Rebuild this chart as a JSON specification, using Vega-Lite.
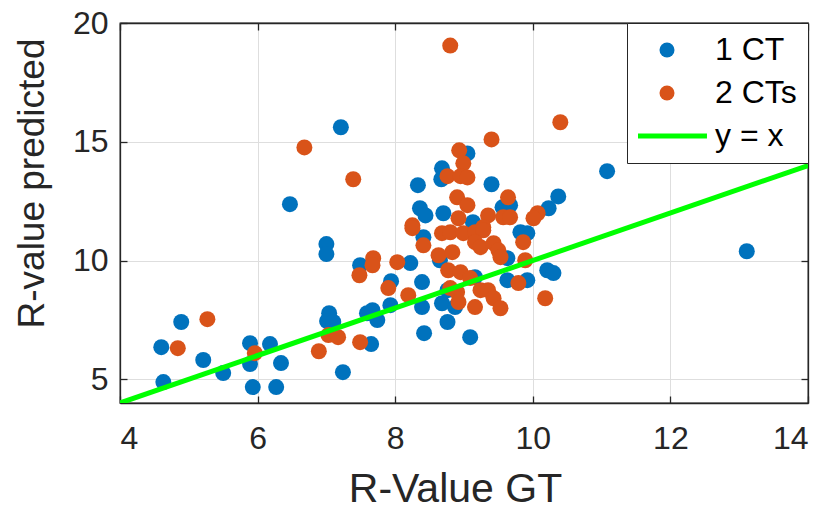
{
  "$schema": "https://vega.github.io/schema/vega-lite/v6.json",
  "width": 688,
  "height": 380,
  "autosize": "none",
  "padding": {"left": 120, "top": 23, "right": 23, "bottom": 107},
  "background": "white",
  "config": {
    "view": {"stroke": "#262626", "strokeWidth": 1.3},
    "font": "Liberation Sans",
    "legend": {"labelAlign": "left"},
    "axis": {
      "labelFont": "Liberation Sans",
      "labelFontSize": 32,
      "labelColor": "#262626",
      "titleFont": "Liberation Sans",
      "titleFontSize": 38,
      "titleColor": "#262626",
      "titleFontWeight": "normal",
      "domainColor": "#262626",
      "domainWidth": 1.3,
      "tickColor": "#262626",
      "tickWidth": 1.3,
      "tickSize": -7,
      "gridColor": "#dedede",
      "gridWidth": 1
    }
  },
  "datasets": {
    "pts": [
      {"gt": 4.60, "pred": 6.35, "group": "1 CT"},
      {"gt": 4.63, "pred": 4.88, "group": "1 CT"},
      {"gt": 4.89, "pred": 7.41, "group": "1 CT"},
      {"gt": 5.21, "pred": 5.81, "group": "1 CT"},
      {"gt": 5.50, "pred": 5.26, "group": "1 CT"},
      {"gt": 5.89, "pred": 6.52, "group": "1 CT"},
      {"gt": 5.89, "pred": 5.64, "group": "1 CT"},
      {"gt": 5.93, "pred": 4.67, "group": "1 CT"},
      {"gt": 6.18, "pred": 6.48, "group": "1 CT"},
      {"gt": 6.34, "pred": 5.68, "group": "1 CT"},
      {"gt": 6.27, "pred": 4.67, "group": "1 CT"},
      {"gt": 6.47, "pred": 12.37, "group": "1 CT"},
      {"gt": 7.21, "pred": 15.61, "group": "1 CT"},
      {"gt": 7.00, "pred": 10.69, "group": "1 CT"},
      {"gt": 7.00, "pred": 10.27, "group": "1 CT"},
      {"gt": 7.04, "pred": 7.78, "group": "1 CT"},
      {"gt": 7.01, "pred": 7.45, "group": "1 CT"},
      {"gt": 7.10, "pred": 7.41, "group": "1 CT"},
      {"gt": 7.24, "pred": 5.30, "group": "1 CT"},
      {"gt": 7.49, "pred": 9.80, "group": "1 CT"},
      {"gt": 7.94, "pred": 9.13, "group": "1 CT"},
      {"gt": 7.93, "pred": 8.12, "group": "1 CT"},
      {"gt": 7.59, "pred": 7.78, "group": "1 CT"},
      {"gt": 7.67, "pred": 7.91, "group": "1 CT"},
      {"gt": 7.74, "pred": 7.49, "group": "1 CT"},
      {"gt": 7.65, "pred": 6.48, "group": "1 CT"},
      {"gt": 9.05, "pred": 14.51, "group": "1 CT"},
      {"gt": 8.68, "pred": 13.88, "group": "1 CT"},
      {"gt": 8.67, "pred": 13.42, "group": "1 CT"},
      {"gt": 8.33, "pred": 13.17, "group": "1 CT"},
      {"gt": 9.40, "pred": 13.21, "group": "1 CT"},
      {"gt": 10.37, "pred": 12.70, "group": "1 CT"},
      {"gt": 8.36, "pred": 12.20, "group": "1 CT"},
      {"gt": 10.23, "pred": 12.20, "group": "1 CT"},
      {"gt": 8.70, "pred": 11.99, "group": "1 CT"},
      {"gt": 9.67, "pred": 12.33, "group": "1 CT"},
      {"gt": 9.56, "pred": 12.24, "group": "1 CT"},
      {"gt": 8.44, "pred": 11.90, "group": "1 CT"},
      {"gt": 9.13, "pred": 11.61, "group": "1 CT"},
      {"gt": 8.41, "pred": 10.98, "group": "1 CT"},
      {"gt": 9.82, "pred": 11.19, "group": "1 CT"},
      {"gt": 9.92, "pred": 11.15, "group": "1 CT"},
      {"gt": 9.63, "pred": 10.10, "group": "1 CT"},
      {"gt": 8.65, "pred": 10.01, "group": "1 CT"},
      {"gt": 8.22, "pred": 9.89, "group": "1 CT"},
      {"gt": 10.21, "pred": 9.59, "group": "1 CT"},
      {"gt": 10.30, "pred": 9.47, "group": "1 CT"},
      {"gt": 9.63, "pred": 9.17, "group": "1 CT"},
      {"gt": 9.92, "pred": 9.17, "group": "1 CT"},
      {"gt": 9.16, "pred": 9.30, "group": "1 CT"},
      {"gt": 8.39, "pred": 9.09, "group": "1 CT"},
      {"gt": 8.39, "pred": 8.04, "group": "1 CT"},
      {"gt": 8.68, "pred": 8.20, "group": "1 CT"},
      {"gt": 8.87, "pred": 8.04, "group": "1 CT"},
      {"gt": 8.76, "pred": 7.41, "group": "1 CT"},
      {"gt": 8.42, "pred": 6.94, "group": "1 CT"},
      {"gt": 9.09, "pred": 6.77, "group": "1 CT"},
      {"gt": 8.76, "pred": 8.75, "group": "1 CT"},
      {"gt": 11.08, "pred": 13.76, "group": "1 CT"},
      {"gt": 13.11, "pred": 10.39, "group": "1 CT"},
      {"gt": 4.84, "pred": 6.31, "group": "2 CTs"},
      {"gt": 5.27, "pred": 7.53, "group": "2 CTs"},
      {"gt": 5.96, "pred": 6.10, "group": "2 CTs"},
      {"gt": 6.89, "pred": 6.18, "group": "2 CTs"},
      {"gt": 7.03, "pred": 6.86, "group": "2 CTs"},
      {"gt": 7.17, "pred": 6.77, "group": "2 CTs"},
      {"gt": 7.48, "pred": 9.38, "group": "2 CTs"},
      {"gt": 7.68, "pred": 10.10, "group": "2 CTs"},
      {"gt": 7.67, "pred": 9.80, "group": "2 CTs"},
      {"gt": 8.03, "pred": 9.93, "group": "2 CTs"},
      {"gt": 7.90, "pred": 8.84, "group": "2 CTs"},
      {"gt": 7.49, "pred": 6.56, "group": "2 CTs"},
      {"gt": 6.68, "pred": 14.76, "group": "2 CTs"},
      {"gt": 7.39, "pred": 13.42, "group": "2 CTs"},
      {"gt": 8.80, "pred": 19.05, "group": "2 CTs"},
      {"gt": 10.40, "pred": 15.82, "group": "2 CTs"},
      {"gt": 9.40, "pred": 15.10, "group": "2 CTs"},
      {"gt": 8.93, "pred": 14.64, "group": "2 CTs"},
      {"gt": 8.99, "pred": 14.09, "group": "2 CTs"},
      {"gt": 8.76, "pred": 13.55, "group": "2 CTs"},
      {"gt": 8.95, "pred": 13.55, "group": "2 CTs"},
      {"gt": 9.05, "pred": 13.50, "group": "2 CTs"},
      {"gt": 9.64, "pred": 12.66, "group": "2 CTs"},
      {"gt": 8.90, "pred": 12.66, "group": "2 CTs"},
      {"gt": 9.05, "pred": 12.33, "group": "2 CTs"},
      {"gt": 8.92, "pred": 11.78, "group": "2 CTs"},
      {"gt": 8.25, "pred": 11.48, "group": "2 CTs"},
      {"gt": 8.25, "pred": 11.36, "group": "2 CTs"},
      {"gt": 9.35, "pred": 11.90, "group": "2 CTs"},
      {"gt": 9.57, "pred": 11.82, "group": "2 CTs"},
      {"gt": 9.67, "pred": 11.82, "group": "2 CTs"},
      {"gt": 10.07, "pred": 11.99, "group": "2 CTs"},
      {"gt": 10.01, "pred": 11.78, "group": "2 CTs"},
      {"gt": 9.28, "pred": 11.40, "group": "2 CTs"},
      {"gt": 8.41, "pred": 10.64, "group": "2 CTs"},
      {"gt": 8.68, "pred": 11.15, "group": "2 CTs"},
      {"gt": 8.80, "pred": 11.19, "group": "2 CTs"},
      {"gt": 8.99, "pred": 11.15, "group": "2 CTs"},
      {"gt": 9.16, "pred": 11.19, "group": "2 CTs"},
      {"gt": 9.28, "pred": 11.27, "group": "2 CTs"},
      {"gt": 9.16, "pred": 10.77, "group": "2 CTs"},
      {"gt": 9.24, "pred": 10.56, "group": "2 CTs"},
      {"gt": 9.43, "pred": 10.73, "group": "2 CTs"},
      {"gt": 9.50, "pred": 10.43, "group": "2 CTs"},
      {"gt": 9.53, "pred": 10.14, "group": "2 CTs"},
      {"gt": 9.86, "pred": 10.77, "group": "2 CTs"},
      {"gt": 9.89, "pred": 10.01, "group": "2 CTs"},
      {"gt": 8.63, "pred": 10.22, "group": "2 CTs"},
      {"gt": 8.83, "pred": 10.35, "group": "2 CTs"},
      {"gt": 9.79, "pred": 9.05, "group": "2 CTs"},
      {"gt": 10.18, "pred": 8.41, "group": "2 CTs"},
      {"gt": 8.77, "pred": 9.59, "group": "2 CTs"},
      {"gt": 8.95, "pred": 9.51, "group": "2 CTs"},
      {"gt": 9.09, "pred": 9.26, "group": "2 CTs"},
      {"gt": 8.19, "pred": 8.54, "group": "2 CTs"},
      {"gt": 8.80, "pred": 8.84, "group": "2 CTs"},
      {"gt": 8.90, "pred": 8.67, "group": "2 CTs"},
      {"gt": 9.24, "pred": 8.75, "group": "2 CTs"},
      {"gt": 9.35, "pred": 8.75, "group": "2 CTs"},
      {"gt": 9.43, "pred": 8.41, "group": "2 CTs"},
      {"gt": 9.53, "pred": 7.99, "group": "2 CTs"},
      {"gt": 8.92, "pred": 8.25, "group": "2 CTs"},
      {"gt": 9.16, "pred": 8.04, "group": "2 CTs"}
    ],
    "ref": [
      {"gt": 4, "pred": 4},
      {"gt": 14, "pred": 14}
    ]
  },
  "layer": [
    {
      "data": {"name": "pts"},
      "mark": {"type": "point", "filled": true, "size": 256, "opacity": 1, "strokeWidth": 0},
      "encoding": {
        "x": {
          "field": "gt", "type": "quantitative",
          "scale": {"domain": [4, 14], "nice": false, "zero": false},
          "axis": {"orient": "bottom", "title": "R-Value GT", "titleFontSize": 41, "titleX": 335, "values": [4, 6, 8, 10, 12, 14], "labelPadding": 27, "titlePadding": 15, "grid": true}
        },
        "y": {
          "field": "pred", "type": "quantitative",
          "scale": {"domain": [4, 20], "nice": false, "zero": false},
          "axis": {"orient": "left", "title": "R-value predicted", "titleFontSize": 37, "titleY": 160, "values": [5, 10, 15, 20], "labelPadding": 19, "titlePadding": 21, "grid": true}
        },
        "color": {
          "field": "group", "type": "nominal",
          "scale": {"domain": ["1 CT", "2 CTs", "y = x"], "range": ["#0072BD", "#D95319", "#00FF00"]},
          "legend": {
            "title": null,
            "orient": "top-right",
            "offset": 0,
            "padding": 11,
            "strokeColor": "#262626",
            "fillColor": "white",
            "labelFont": "Liberation Sans",
            "labelFontSize": 32,
            "labelColor": "black",
            "labelAlign": "left",
            "symbolSize": 225,
            "symbolStrokeWidth": 73,
            "symbolStrokeColor": "transparent",
            "symbolOffset": -15,
            "clipHeight": 32,
            "rowPadding": 11,
            "cornerRadius": 0
          }
        },
        "shape": {
          "field": "group", "type": "nominal",
          "scale": {"domain": ["1 CT", "2 CTs", "y = x"], "range": ["circle", "circle", "M-5.33,-0.33H5.33V0.33H-5.33Z"]},
          "legend": {
            "title": null,
            "orient": "top-right",
            "offset": 0,
            "padding": 11,
            "strokeColor": "#262626",
            "fillColor": "white",
            "labelFont": "Liberation Sans",
            "labelFontSize": 32,
            "labelColor": "black",
            "labelAlign": "left",
            "symbolSize": 225,
            "symbolStrokeWidth": 73,
            "symbolStrokeColor": "transparent",
            "symbolOffset": -15,
            "clipHeight": 32,
            "rowPadding": 11,
            "cornerRadius": 0
          }
        }
      }
    },
    {
      "data": {"name": "ref"},
      "mark": {"type": "line", "color": "#00FF00", "strokeWidth": 5, "clip": true},
      "encoding": {
        "x": {
          "field": "gt", "type": "quantitative",
          "scale": {"domain": [4, 14], "nice": false, "zero": false},
          "axis": {"orient": "top", "title": null, "labels": false, "grid": false, "values": [4, 6, 8, 10, 12, 14]}
        },
        "y": {
          "field": "pred", "type": "quantitative",
          "scale": {"domain": [4, 20], "nice": false, "zero": false},
          "axis": {"orient": "right", "title": null, "labels": false, "grid": false, "values": [5, 10, 15, 20]}
        }
      }
    }
  ],
  "resolve": {"scale": {"x": "independent", "y": "independent"}}
}
